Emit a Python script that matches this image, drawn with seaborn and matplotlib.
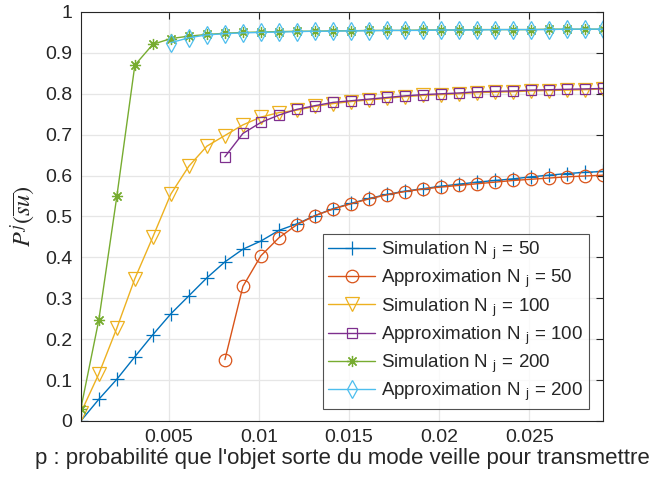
import numpy as np
import pandas as pd
import matplotlib
matplotlib.use("Agg")
import matplotlib.pyplot as plt
import seaborn as sns

# p values (0.0001 .. 0.0291, step 0.001)
p = np.round(np.arange(0.0001, 0.0292, 0.001), 4)

sim_50 = [0, 0.053, 0.102, 0.157, 0.211, 0.262, 0.306, 0.350, 0.389, 0.420,
          0.440, 0.466, 0.482, 0.502, 0.519, 0.532, 0.544, 0.554, 0.562, 0.568,
          0.574, 0.579, 0.584, 0.588, 0.592, 0.597, 0.601, 0.605, 0.608, 0.610]
approx_50 = [0.150, 0.329, 0.404, 0.448, 0.480, 0.502, 0.518, 0.531, 0.543, 0.553,
             0.561, 0.567, 0.572, 0.576, 0.580, 0.584, 0.588, 0.591, 0.594, 0.597,
             0.599, 0.601]
sim_100 = [0.02, 0.115, 0.227, 0.348, 0.45, 0.555, 0.623, 0.672, 0.698, 0.724,
           0.743, 0.754, 0.760, 0.769, 0.776, 0.781, 0.785, 0.789, 0.793, 0.796,
           0.798, 0.800, 0.803, 0.804, 0.805, 0.807, 0.808, 0.809, 0.810, 0.812]
approx_100 = [0.646, 0.703, 0.730, 0.748, 0.762, 0.771, 0.779, 0.783, 0.787, 0.791,
              0.795, 0.798, 0.800, 0.802, 0.805, 0.806, 0.807, 0.809, 0.810, 0.811,
              0.812, 0.813]
sim_200 = [0.03, 0.247, 0.549, 0.870, 0.921, 0.935, 0.941, 0.945, 0.948, 0.950,
           0.951, 0.952, 0.953, 0.953, 0.954, 0.954, 0.955, 0.955, 0.955, 0.956,
           0.956, 0.956, 0.957, 0.957, 0.957, 0.957, 0.958, 0.958, 0.958, 0.958]
approx_200 = [0.925, 0.937, 0.944, 0.947, 0.949, 0.950, 0.951, 0.952, 0.953, 0.953,
              0.954, 0.954, 0.955, 0.955, 0.955, 0.956, 0.956, 0.956, 0.957, 0.957,
              0.957, 0.957, 0.958, 0.958, 0.958]

labels = ["Simulation N $_\\mathregular{j}$ = 50", "Approximation N $_\\mathregular{j}$ = 50",
          "Simulation N $_\\mathregular{j}$ = 100", "Approximation N $_\\mathregular{j}$ = 100",
          "Simulation N $_\\mathregular{j}$ = 200", "Approximation N $_\\mathregular{j}$ = 200"]
colors = ["#0072BD", "#D95319", "#EDB120", "#7E2F8E", "#77AC30", "#4DBEEE"]
markers = ["+", "o", "v", "s", (8, 2, 0), "d"]
msizes = [10, 9, 10, 7.5, 8, 9]

series = [(p, sim_50), (p[8:], approx_50), (p, sim_100), (p[8:], approx_100),
          (p, sim_200), (p[5:], approx_200)]

sns.set_style("white")
plt.rcParams["font.family"] = ["Liberation Sans", "DejaVu Sans"]
plt.rcParams["mathtext.fontset"] = "stix"

fig = plt.figure(figsize=(6.57, 4.8), dpi=100)
ax = fig.add_axes([0.123, 0.123, 0.795, 0.852])

for (xs, ys), lab, c, m, ms in zip(series, labels, colors, markers, msizes):
    sns.lineplot(x=xs, y=ys, ax=ax, color=c, marker=m, markersize=ms,
                 markerfacecolor="none", markeredgecolor=c, markeredgewidth=0.9,
                 linewidth=1.0, label=lab)

ax.set_xlim(0.0001, 0.0291)
ax.set_ylim(0, 1)
ax.set_xticks([0.005, 0.01, 0.015, 0.02, 0.025])
ax.set_xticklabels(["0.005", "0.01", "0.015", "0.02", "0.025"])
ax.set_yticks(np.arange(0, 1.01, 0.1))
ax.set_yticklabels(["0", "0.1", "0.2", "0.3", "0.4", "0.5", "0.6", "0.7", "0.8", "0.9", "1"])
ax.grid(True, color="#e6e6e6", linewidth=0.9)
ax.set_axisbelow(True)
ax.tick_params(direction="in", length=5, width=0.8, top=True, right=True,
               labelsize=14, colors="#262626", pad=6)
for s in ax.spines.values():
    s.set_color("#262626")
    s.set_linewidth(0.8)

ax.set_xlabel("p : probabilité que l'objet sorte du mode veille pour transmettre",
              fontsize=16, color="#262626", labelpad=1)
ax.set_ylabel(r"$P^j(\overline{su})$", fontsize=17.5, color="#262626", labelpad=5)

leg = ax.legend(loc="lower right", bbox_to_anchor=(0.972, 0.03), fontsize=13.5,
                frameon=True, fancybox=False, edgecolor="#262626",
                borderpad=0.3, labelspacing=0.28, handlelength=2.5,
                handletextpad=0.3, borderaxespad=0)
leg.get_frame().set_linewidth(0.8)

fig.savefig("out.png", dpi=100)
